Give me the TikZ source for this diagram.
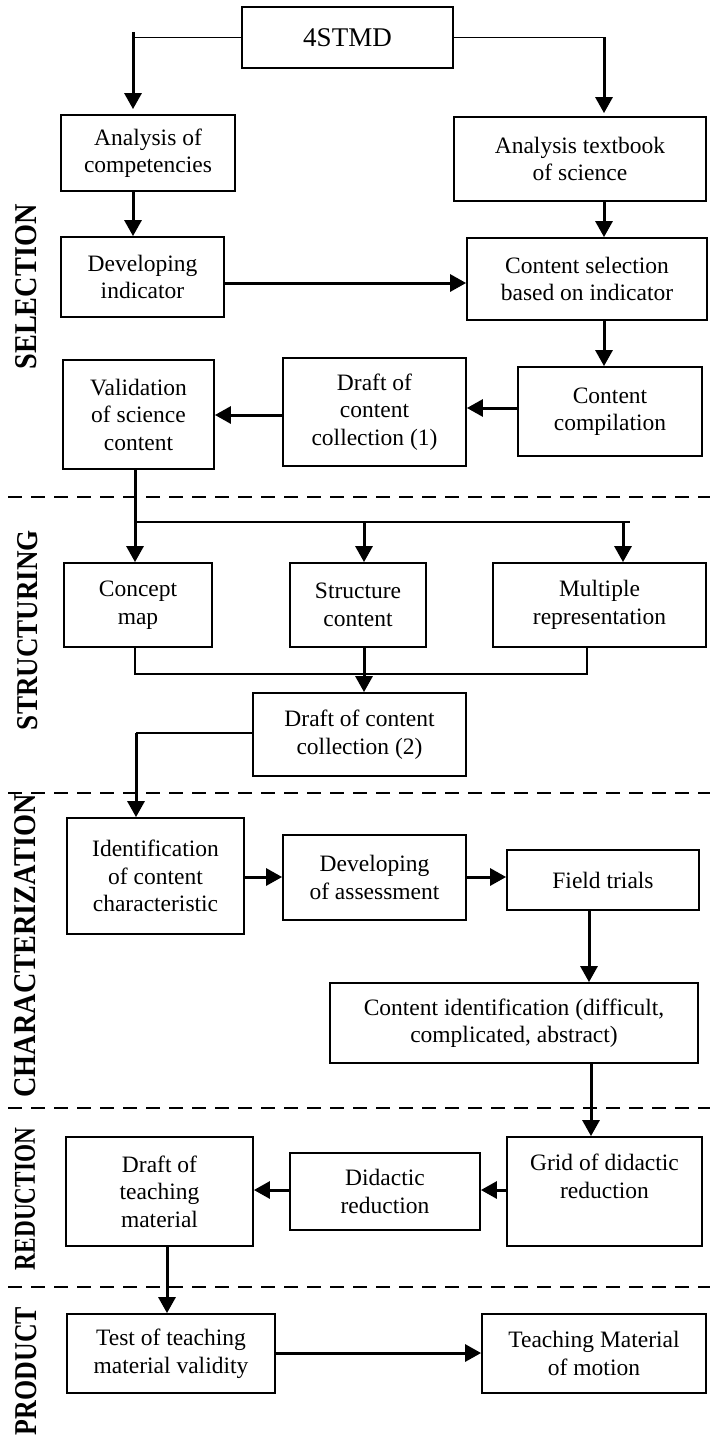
\documentclass[tikz,border=0pt]{standalone}
\usepackage{fontspec}
\setmainfont{Liberation Serif}
\usetikzlibrary{arrows.meta,calc}
\tikzset{
  txt/.style={align=center, inner sep=0pt, font=\fontsize{23.5}{27.5}\selectfont},
  box/.style={txt, draw, line width=1.8pt},
  arr/.style={line width=3pt, -{Triangle[width=17pt,length=16pt]}},
  conn/.style={line width=1.5pt},
  sepline/.style={dash pattern=on 14pt off 9pt, line width=1.6pt},
  side/.style={rotate=90, inner sep=0pt},
}
\begin{document}
\begin{tikzpicture}[x=1pt,y=-1pt]
\useasboundingbox (0,0) rectangle (710,1437);

% ---------- nodes ----------
\node[box, minimum width=211pt, minimum height=61pt] (st) at (347.5,37.5) {\fontsize{27}{31}\selectfont 4STMD};
\node[box, minimum width=174pt, minimum height=76pt] (ac) at (148,153) {Analysis of\\competencies};
\node[box, minimum width=252pt, minimum height=84pt] (at) at (580,159) {Analysis textbook\\of science};
\node[box, minimum width=163pt, minimum height=80pt] (di) at (142.5,277) {Developing\\indicator};
\node[box, minimum width=240pt, minimum height=82pt] (cs) at (587,279) {Content selection\\based on indicator};
\node[box, minimum width=184pt, minimum height=89pt] (cc) at (610,411.5) {Content\\compilation};
\node[box, minimum width=183pt, minimum height=108pt] (d1) at (374.5,412) {Draft of\\content\\collection (1)};
\node[box, minimum width=151pt, minimum height=109pt] (va) at (138.5,414.5) {Validation\\of science\\content};

\node[box, minimum width=148pt, minimum height=84pt] (cm) at (138,605) {Concept\\map};
\node[box, minimum width=136pt, minimum height=84pt] (sc) at (358,605) {Structure\\content};
\node[box, minimum width=213pt, minimum height=84pt] (mr) at (599.5,605) {Multiple\\representation};
\node[box, minimum width=213pt, minimum height=83pt] (d2) at (359.5,734.5) {Draft of content\\collection (2)};

\node[box, minimum width=177pt, minimum height=116pt] (ic) at (155.5,876) {Identification\\of content\\characteristic};
\node[box, minimum width=183pt, minimum height=85pt] (da) at (374.5,877.5) {Developing\\of assessment};
\node[box, minimum width=192pt, minimum height=60pt] (ft) at (603,880) {Field trials};
\node[box, minimum width=368pt, minimum height=80pt] (ci) at (514,1023) {Content identification (difficult,\\complicated, abstract)};

\node[box, minimum width=187pt, minimum height=109pt] (dt) at (159.5,1191.5) {Draft of\\teaching\\material};
\node[box, minimum width=190pt, minimum height=77pt] (dr) at (385,1191.5) {Didactic\\reduction};
\node[box, minimum width=195pt, minimum height=109pt] (gd) at (604.5,1191.5) {};
\node[txt] (gdt) at (604.5,1176.5) {Grid of didactic\\reduction};

\node[box, minimum width=208pt, minimum height=79pt] (tt) at (171,1353.5) {Test of teaching\\material validity};
\node[box, minimum width=224pt, minimum height=79pt] (tm) at (594,1353.5) {Teaching Material\\of motion};

% ---------- side labels ----------
\node[side] (lsel) at (26,287) {\resizebox{165pt}{21pt}{\bfseries SELECTION}};
\node[side] (lstr) at (28,630) {\resizebox{200pt}{20pt}{\bfseries STRUCTURING}};
\node[side] (lcha) at (25,946) {\resizebox{303pt}{21pt}{\bfseries CHARACTERIZATION}};
\node[side] (lred) at (25,1199) {\resizebox{142pt}{20pt}{\bfseries REDUCTION}};
\node[side] (lpro) at (26,1371) {\resizebox{128pt}{21pt}{\bfseries PRODUCT}};

% ---------- dashed separators ----------
\draw[sepline] (8,497) -- (710,497);
\draw[sepline] (8,793) -- (710,793);
\draw[sepline] (8,1108) -- (710,1108);
\draw[sepline] (8,1287) -- (710,1287);

% ---------- coordinates ----------
\coordinate (xL) at (133,0);
\coordinate (xR) at (604,0);
\coordinate (b1) at (135,522);
\coordinate (b2) at (364,522);
\coordinate (b3) at (623,522);
\coordinate (b4) at (630,522);
\coordinate (j1) at (135,674);
\coordinate (j2) at (587,674);
\coordinate (j3) at (364,674);
\coordinate (k1) at (136,733);
\coordinate (yA) at (0,877);
\coordinate (xF) at (589,0);
\coordinate (xG) at (591,0);
\coordinate (yB) at (0,1190);
\coordinate (xT) at (167,0);
\coordinate (yC) at (0,1353);

% ---------- connectors ----------
\draw[conn] (st.west) -- (st.west -| xL);
\draw[arr] ($(st.west -| xL)+(0,5pt)$) -- ($(ac.north -| xL)+(0,5pt)$);
\draw[conn] (st.east) -- (st.east -| xR);
\draw[arr] (st.east -| xR) -- ($(at.north -| xR)+(0,3pt)$);
\draw[arr] (ac.south -| xL) -- (di.north -| xL);
\draw[arr] (at.south -| xR) -- (cs.north -| xR);
\draw[arr] ([yshift=-6pt]di.east) -- ([yshift=-6pt]di.east -| cs.west);
\draw[arr] (cs.south -| xR) -- (cc.north -| xR);
\draw[arr] ([yshift=3.5pt]cc.west) -- ([yshift=3.5pt]cc.west -| d1.east);
\draw[arr] ([yshift=-3pt]d1.west) -- ([yshift=-3pt]d1.west -| va.east);

\draw[line width=3pt] (va.south -| b1) -- (b1);
\draw[line width=2.2pt] (b1) -- (b4);
\draw[arr] (b1) -- (cm.north -| b1);
\draw[arr] (b2) -- (sc.north -| b2);
\draw[arr] (b3) -- (mr.north -| b3);

\draw[conn] (cm.south -| j1) -- (j1) -- (j2) -- (mr.south -| j2);
\draw[arr] (sc.south -| j3) -- (d2.north -| j3);

\draw[conn] (d2.west |- k1) -- (k1);
\draw[arr] (k1) -- (ic.north -| k1);

\draw[arr] (ic.east |- yA) -- (da.west |- yA);
\draw[arr] (da.east |- yA) -- (ft.west |- yA);
\draw[arr] (ft.south -| xF) -- (ci.north -| xF);
\draw[arr] (ci.south -| xG) -- (gd.north -| xG);
\draw[arr] (gd.west |- yB) -- (dr.east |- yB);
\draw[arr] (dr.west |- yB) -- (dt.east |- yB);
\draw[arr] (dt.south -| xT) -- (tt.north -| xT);
\draw[arr] (tt.east |- yC) -- (tm.west |- yC);
\end{tikzpicture}
\end{document}
